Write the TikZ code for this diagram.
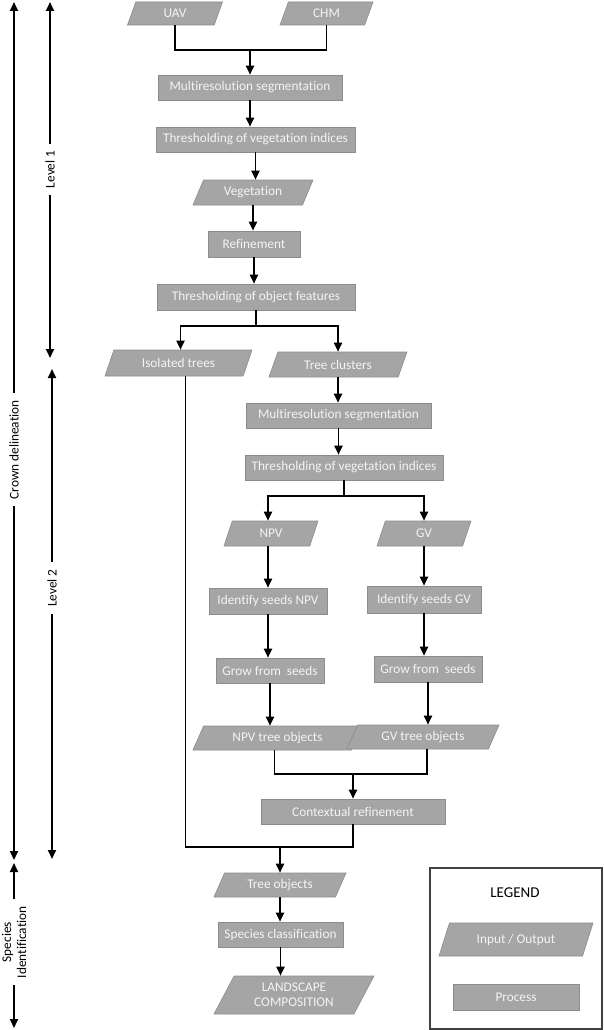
\documentclass[tikz,border=0pt]{standalone}
\usepackage{fontspec}
\setmainfont{Carlito}[Ligatures={NoCommon}]
\usetikzlibrary{shapes.geometric,arrows.meta}
\definecolor{boxgray}{HTML}{A5A5A5}
\definecolor{boxedge}{HTML}{8C8C8C}
\definecolor{boxtext}{HTML}{F4F4F4}
\newcommand{\flowfont}{\fontsize{13.3}{15}\selectfont}

\begin{document}
\begin{tikzpicture}[x=1pt, y=-1pt,
    proc/.style={rectangle, fill=boxgray, draw=boxedge, line width=0.6pt, text=boxtext,
      font=\flowfont, inner sep=1pt, minimum height=25pt},
    io/.style={trapezium, trapezium left angle=52, trapezium right angle=128,
      trapezium stretches body, fill=boxgray, draw=boxedge, line width=0.6pt,
      text=boxtext, font=\flowfont, inner sep=1pt, minimum height=25pt, align=center},
    wire/.style={draw=black, line width=1.8pt},
    arr/.style={wire, -{Triangle[length=9pt,width=8pt]}},
    dbl/.style={wire, {Triangle[length=9pt,width=8pt]}-{Triangle[length=9pt,width=8pt]}},
    side/.style={fill=white, rotate=90, font=\flowfont, inner xsep=7pt, inner ysep=0pt, align=center},
    frame/.style={rectangle, draw=black!75, line width=1.2pt, inner sep=0pt},
  ]
  \useasboundingbox (0,0) rectangle (603,1030);

  % ================= level 1: inputs and vegetation mask
  \node[io, minimum width=95pt, minimum height=23pt] (uav) at (175,13.5) {UAV};
  \node[io, minimum width=93pt, minimum height=23pt] (chm) at (326.5,13.5) {CHM};
  \node[proc, minimum width=184pt] (seg1) at (250,87.5) {Multiresolution segmentation};
  \node[proc, minimum width=199pt] (thr1) at (255.5,139.5) {Thresholding of vegetation indices};
  \node[io, minimum width=120pt] (veg) at (253,192.5) {Vegetation};
  \node[proc, minimum width=92pt, minimum height=26pt] (refine) at (254,244) {Refinement};
  \node[proc, minimum width=198pt, minimum height=26pt] (throbj) at (256,297) {Thresholding of object features};
  \node[io, minimum width=147pt, minimum height=26pt] (isol) at (178.5,363) {Isolated trees};
  \node[io, minimum width=138pt] (clust) at (338,364.5) {Tree clusters};

  % ================= level 2: splitting the tree clusters
  \node[proc, minimum width=185pt] (seg2) at (338.5,415.5) {Multiresolution segmentation};
  \node[proc, minimum width=198pt] (thr2) at (344,467.5) {Thresholding of vegetation indices};
  \node[io, minimum width=94pt] (npv) at (271,533.5) {NPV};
  \node[io, minimum width=94pt] (gv) at (424,533.5) {GV};
  \node[proc, minimum width=118pt, minimum height=26pt] (seedn) at (268,601) {Identify seeds NPV};
  \node[proc, minimum width=114pt, minimum height=27pt] (seedg) at (424,599.5) {Identify seeds GV};
  \node[proc, minimum width=108pt] (grown) at (270,670.5) {Grow from \ seeds};
  \node[proc, minimum width=108pt, minimum height=26pt] (growg) at (428,669) {Grow from \ seeds};
  \node[io, minimum width=169pt, minimum height=24pt] (objn) at (277.5,738) {NPV tree objects};
  \node[io, minimum width=152pt, minimum height=24pt] (objg) at (423,737) {GV tree objects};
  \node[proc, minimum width=184pt] (ctx) at (353,811.5) {Contextual refinement};

  % ================= species identification
  \node[io, minimum width=132pt, minimum height=24pt] (trees) at (280,885) {Tree objects};
  \node[proc, minimum width=125pt] (species) at (280.5,934.5) {Species classification};
  \node[io, minimum width=160pt, minimum height=38pt] (land) at (294,995) {LANDSCAPE\\COMPOSITION};

  % ================= connectors
  \coordinate (j1) at (seg1.north |- 0,50);
  \draw[wire] (uav.south) |- (j1) -| (chm.south);
  \draw[arr] (j1) -- (seg1.north);
  \draw[arr] (seg1.south) -- (seg1.south |- thr1.north);
  \draw[arr] (thr1.south) -- (thr1.south |- veg.north);
  \draw[arr] (veg.south) -- (veg.south |- refine.north);
  \draw[arr] (refine.south) -- (refine.south |- throbj.north);
  \coordinate (j2) at (throbj.south |- 0,326);
  \draw[wire] (throbj.south) -- (j2);
  \draw[arr] (j2) -| ([xshift=2pt]isol.north);
  \draw[arr] (j2) -| (clust.north);
  \draw[arr] (clust.south) -- (clust.south |- seg2.north);
  \draw[arr] (seg2.south) -- (seg2.south |- thr2.north);
  \coordinate (j3) at (thr2.south |- 0,496);
  \draw[wire] (thr2.south) -- (j3);
  \draw[arr] (j3) -| ([xshift=-3pt]npv.north);
  \draw[arr] (j3) -| (gv.north);
  \draw[arr] ([xshift=-3pt]npv.south) -- ([xshift=-3pt]npv.south |- seedn.north);
  \draw[arr] (gv.south) -- (gv.south |- seedg.north);
  \draw[arr] (seedn.south) -- (seedn.south |- grown.north);
  \draw[arr] (seedg.south) -- (seedg.south |- growg.north);
  \draw[arr] (grown.south) -- (grown.south |- objn.north);
  \draw[arr] (growg.south) -- (growg.south |- objg.north);
  \coordinate (j4) at (ctx.north |- 0,774);
  \draw[wire] ([xshift=-3pt]objn.south) |- (j4) -| ([xshift=4pt]objg.south);
  \draw[arr] (j4) -- (ctx.north);
  \coordinate (j5) at (trees.north |- 0,847);
  \draw[wire] ([xshift=7pt]isol.south) |- (ctx.south |- j5) -- (ctx.south);
  \draw[arr] (j5) -- (trees.north);
  \draw[arr] (trees.south) -- (trees.south |- species.north);
  \draw[arr] (species.south) -- (species.south |- land.north);

  % ================= stage brackets on the left
  \coordinate (crowntop) at (14,2);
  \coordinate (crownbot) at (14,860);
  \coordinate (lvlatop) at (50,2);
  \coordinate (lvlabot) at (50,358);
  \coordinate (lvlbtop) at (52,369);
  \coordinate (lvlbbot) at (52,859);
  \coordinate (spectop) at (14,863);
  \coordinate (specbot) at (14,1028);
  \draw[dbl] (crowntop) -- node[side, pos=0.522] (crownlbl) {Crown delineation} (crownbot);
  \draw[dbl] (lvlatop) -- node[side, pos=0.47] (lvlalbl) {Level 1} (lvlabot);
  \draw[dbl] (lvlbtop) -- node[side, pos=0.447] (lvlblbl) {Level 2} (lvlbbot);
  \draw[dbl] (spectop) -- node[side, pos=0.48] (speclbl) {Species\\Identification} (specbot);

  % ================= legend
  \node[frame, minimum width=172pt, minimum height=161pt] (legend) at (516,948.5) {};
  \node[font=\fontsize{15}{17}\selectfont] (legendtitle) at (515,893) {LEGEND};
  \node[io, minimum width=154pt, minimum height=33pt] (legio) at (516,939.5) {Input / Output};
  \node[proc, minimum width=126pt, minimum height=26pt] (legproc) at (516,997) {Process};
\end{tikzpicture}
\end{document}
